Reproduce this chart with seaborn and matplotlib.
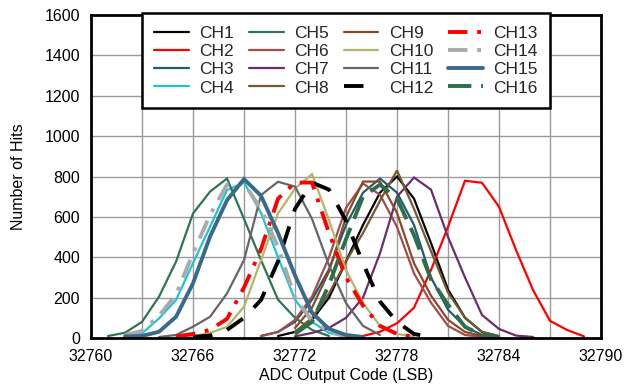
import matplotlib
matplotlib.use("Agg")
import matplotlib.pyplot as plt
import seaborn as sns
import numpy as np
import pandas as pd

sns.set_theme(style="white")
plt.rcParams['font.family'] = ['Liberation Sans', 'DejaVu Sans']

channels = [f"CH{i}" for i in range(1, 17)]

# first ADC code of each channel's data (LSB)
start_codes = {
    "CH1": 32771, "CH2": 32775, "CH3": 32770, "CH4": 32762,
    "CH5": 32761, "CH6": 32770, "CH7": 32772, "CH8": 32772,
    "CH9": 32772, "CH10": 32765, "CH11": 32764, "CH12": 32766,
    "CH13": 32765, "CH14": 32762, "CH15": 32762, "CH16": 32772,
}

# hit counts at consecutive codes starting at start_codes
hits = {
    "CH1": [10, 30, 90, 200, 380, 560, 720, 800, 690, 470, 240, 100, 30, 8],
    "CH2": [3, 10, 31, 73, 150, 337, 551, 779, 769, 650, 436, 238, 85, 40, 8],
    "CH3": [10, 30, 80, 190, 340, 560, 720, 790, 720, 560, 300, 140, 56, 15, 5],
    "CH4": [15, 23, 97, 188, 371, 551, 733, 770, 620, 400, 190, 80, 25, 8],
    "CH5": [10, 26, 80, 205, 378, 617, 725, 790, 590, 386, 190, 100, 40, 10],
    "CH6": [10, 30, 90, 205, 400, 645, 765, 710, 550, 320, 175, 60, 15, 5],
    "CH7": [8, 25, 50, 100, 200, 420, 700, 795, 735, 500, 300, 114, 45, 12, 5],
    "CH8": [30, 100, 220, 380, 520, 680, 830, 640, 430, 225, 100, 30, 10],
    "CH9": [50, 150, 330, 600, 775, 775, 620, 370, 210, 90, 30, 10],
    "CH10": [5, 10, 25, 56, 155, 386, 617, 740, 812, 584, 337, 173, 60, 20, 8],
    "CH11": [5, 15, 56, 105, 221, 386, 708, 774, 750, 590, 360, 173, 60, 15],
    "CH12": [5, 12, 40, 100, 188, 380, 640, 770, 735, 580, 370, 180, 80, 20, 5],
    "CH13": [8, 20, 40, 95, 250, 440, 690, 770, 770, 520, 300, 160, 60, 20, 5],
    "CH14": [15, 35, 110, 215, 420, 610, 760, 765, 640, 450, 200, 85, 30, 8],
    "CH15": [8, 10, 31, 105, 271, 502, 683, 787, 705, 520, 310, 125, 45, 15, 5],
    "CH16": [20, 80, 265, 490, 700, 760, 690, 510, 290, 165, 55, 15, 5],
}

colors = {
    "CH1": "#000000", "CH2": "#FF0000", "CH3": "#1F5C6E", "CH4": "#1FC3D6",
    "CH5": "#2E7552", "CH6": "#A34C4C", "CH7": "#6B2D6E", "CH8": "#75592F",
    "CH9": "#8B4A23", "CH10": "#B4B46A", "CH11": "#666666", "CH12": "#000000",
    "CH13": "#FF0000", "CH14": "#AAAAAA", "CH15": "#3A6A8A", "CH16": "#2E6E4C",
}
widths = {c: 1.6 for c in channels}
for c in ["CH12", "CH13", "CH14", "CH15", "CH16"]:
    widths[c] = 2.8
styles = {c: "-" for c in channels}
styles["CH12"] = (0, (5, 4))
styles["CH13"] = (0, (5, 2.5, 1, 2.5))
styles["CH14"] = (0, (5, 2.5, 1, 2.5))
styles["CH16"] = (0, (6, 2.5))

rows = []
for c in channels:
    for i, v in enumerate(hits[c]):
        rows.append({"channel": c, "code": start_codes[c] + i, "hits": v})
df = pd.DataFrame(rows)

fig = plt.figure(figsize=(6.29, 3.87), dpi=100)
ax = fig.add_axes([0.1447, 0.1266, 0.8108, 0.8346])

for c in channels:
    sub = df[df["channel"] == c]
    sns.lineplot(data=sub, x="code", y="hits", ax=ax, color=colors[c],
                 lw=widths[c], linestyle=styles[c], label=c,
                 solid_joinstyle="miter")

ax.set_xlim(32760, 32790)
ax.set_ylim(0, 1600)
ax.set_xticks(np.arange(32760, 32791, 6))
ax.set_xticks(np.arange(32760, 32791, 3), minor=True)
ax.set_yticks(np.arange(0, 1601, 200))
ax.grid(True, which="both", color="#9A9A9A", lw=1.0)
ax.set_axisbelow(True)
ax.tick_params(axis="both", which="both", length=0, labelsize=11.5,
               labelcolor="black")
ax.tick_params(axis="x", pad=8)
ax.tick_params(axis="y", pad=8)
for s in ax.spines.values():
    s.set_color("black")
    s.set_linewidth(2)
ax.set_xlabel("ADC Output Code (LSB)", fontsize=11.5, color="black", labelpad=3)
ax.set_ylabel("Number of Hits", fontsize=11.5, color="black", labelpad=13)

leg = ax.legend(loc="upper center", bbox_to_anchor=(0.5, 1.005), ncol=4,
                fontsize=12.5, frameon=True, fancybox=False, framealpha=1,
                edgecolor="black", borderpad=0.7, labelspacing=0.18,
                handlelength=2.0, handletextpad=0.6, columnspacing=0.85,
                borderaxespad=0)
leg.get_frame().set_linewidth(1.8)

fig.savefig("out.png", dpi=100)
